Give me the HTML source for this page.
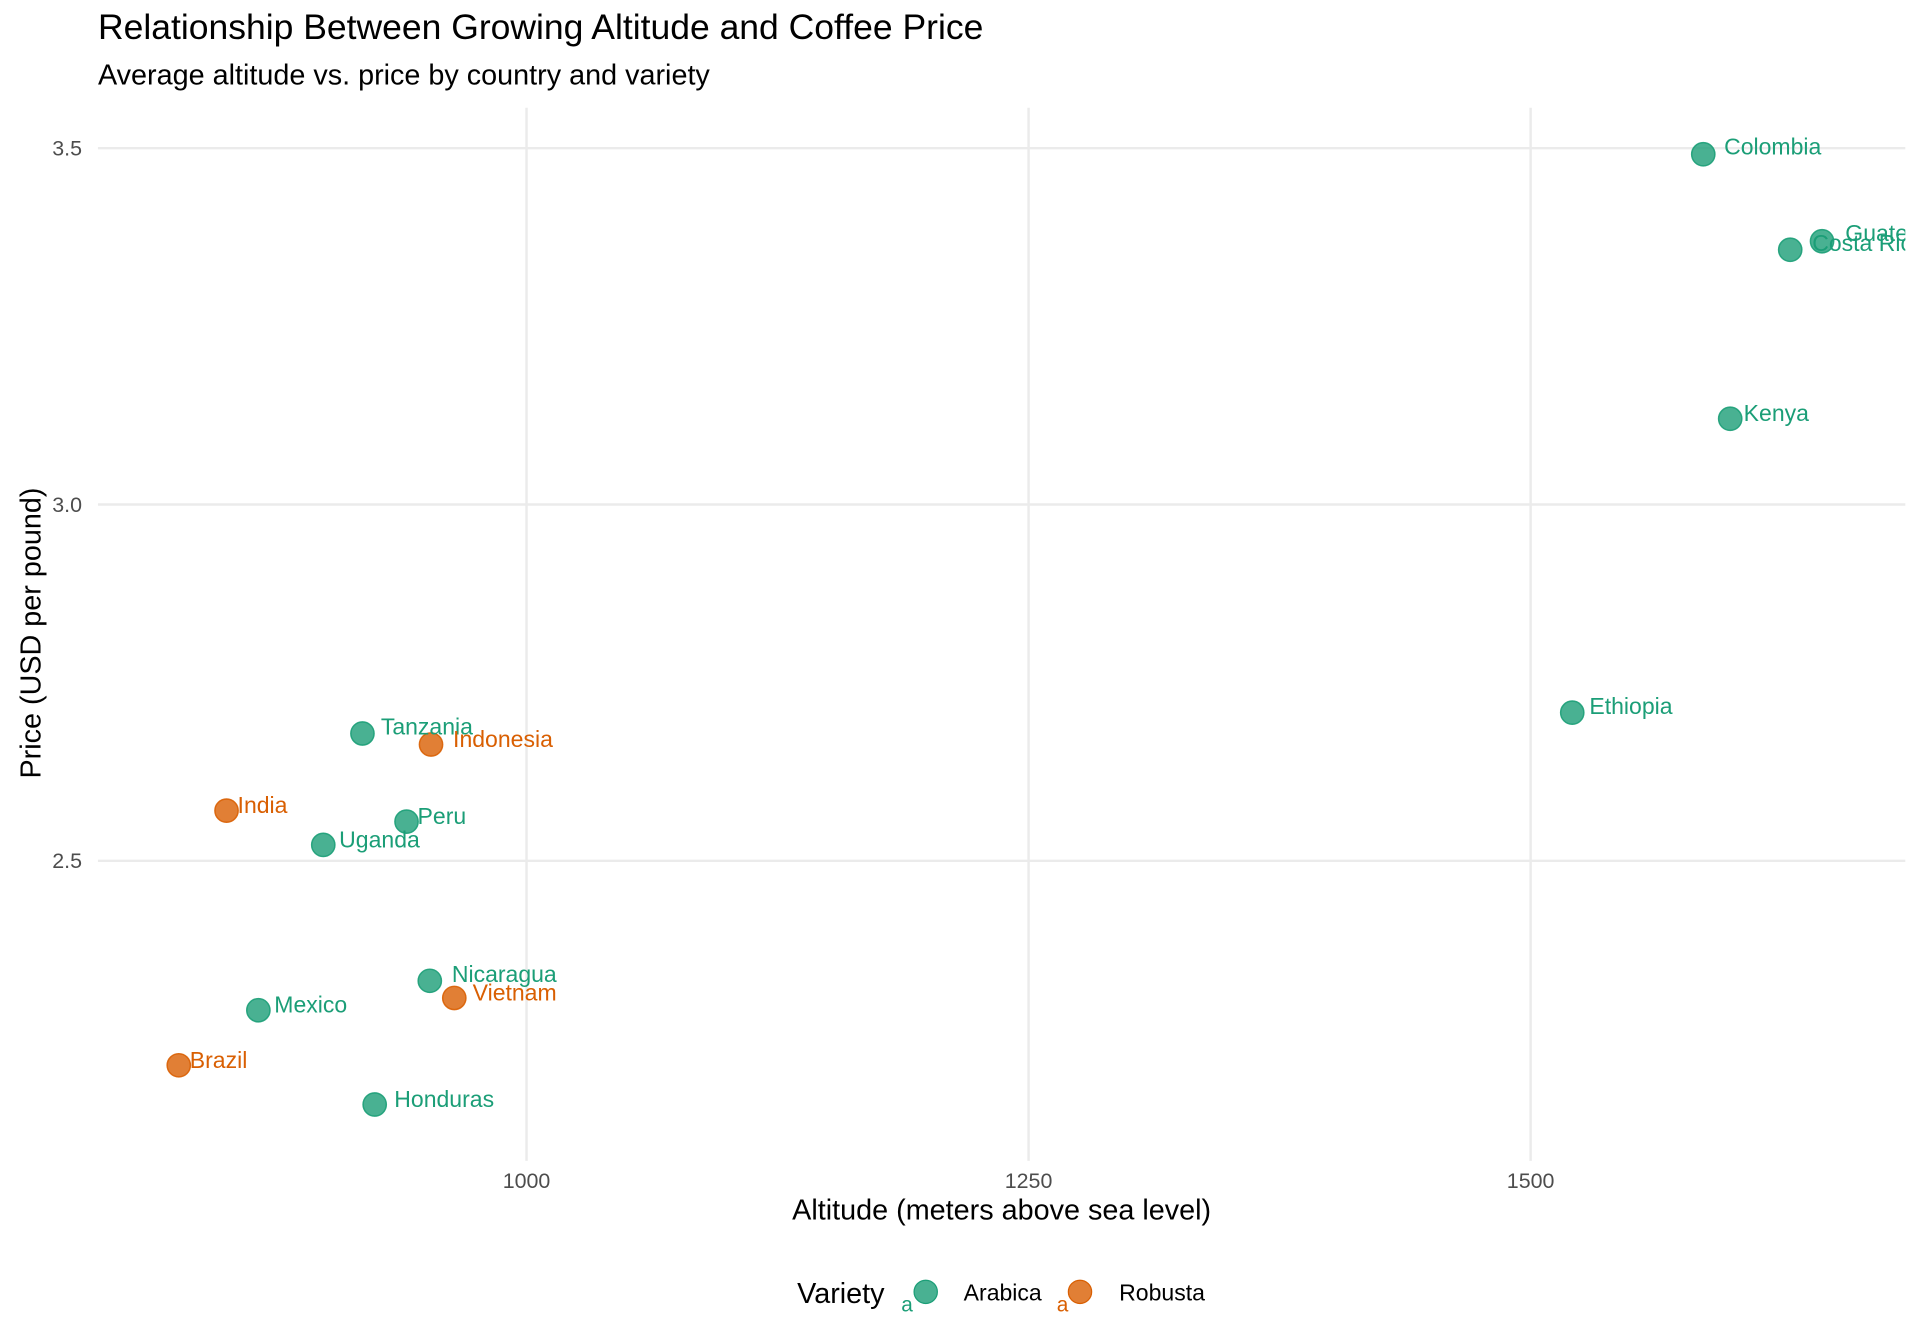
<!DOCTYPE html>
<html><head><meta charset="utf-8"><style>
html,body{margin:0;padding:0;background:#fff;}
svg{display:block;}
text{font-family:"Liberation Sans",Arial,sans-serif;}
</style></head><body>
<svg width="1920" height="1344" viewBox="0 0 1568 1097.6" xmlns="http://www.w3.org/2000/svg">
<rect width="1568" height="1097.6" fill="#fff"/>
<defs><clipPath id="p"><rect x="80" y="88" width="1476" height="860"/></clipPath></defs>
<text x="80" y="32" font-size="29" fill="#000">Relationship Between Growing Altitude and Coffee Price</text>
<text x="80" y="69" font-size="23.5" fill="#000">Average altitude vs. price by country and variety</text>
<g stroke="#ebebeb" stroke-width="2">
<line x1="430" y1="88" x2="430" y2="948"/>
<line x1="840" y1="88" x2="840" y2="948"/>
<line x1="1250" y1="88" x2="1250" y2="948"/>
<line x1="80" y1="121" x2="1556" y2="121"/>
<line x1="80" y1="412" x2="1556" y2="412"/>
<line x1="80" y1="703" x2="1556" y2="703"/>
</g>
<g font-size="17.5" fill="#4d4d4d" text-anchor="end">
<text x="67" y="127">3.5</text><text x="67" y="418">3.0</text><text x="67" y="709">2.5</text>
</g>
<g font-size="17.5" fill="#4d4d4d" text-anchor="middle">
<text x="430" y="970">1000</text><text x="840" y="970">1250</text><text x="1250" y="970">1500</text>
</g>
<text x="818" y="996" font-size="23.5" text-anchor="middle" fill="#000">Altitude (meters above sea level)</text>
<text transform="translate(33,517) rotate(-90)" font-size="23.5" text-anchor="middle" fill="#000">Price (USD per pound)</text>
<g clip-path="url(#p)">
<g fill-opacity="0.8" stroke-opacity="0.9" stroke-width="1.2">
<g fill="#1b9e77" stroke="#1b9e77">
<circle cx="1391" cy="126" r="9.5"/><circle cx="1488" cy="197" r="9.5"/><circle cx="1462" cy="204" r="9.5"/>
<circle cx="1413" cy="342" r="9.5"/><circle cx="1284" cy="582" r="9.5"/><circle cx="296" cy="599" r="9.5"/>
<circle cx="332" cy="671" r="9.5"/><circle cx="264" cy="690" r="9.5"/><circle cx="351" cy="801" r="9.5"/>
<circle cx="211" cy="825" r="9.5"/><circle cx="306" cy="902" r="9.5"/>
</g>
<g fill="#d95f02" stroke="#d95f02">
<circle cx="352" cy="608" r="9.5"/><circle cx="185" cy="662" r="9.5"/><circle cx="371" cy="815" r="9.5"/><circle cx="146" cy="870" r="9.5"/>
</g>
</g>
<g font-size="18.8" fill="#1b9e77">
<text x="1408" y="126">Colombia</text><text x="1507" y="197">Guatemala</text><text x="1480" y="205">Costa Rica</text>
<text x="1424" y="344">Kenya</text><text x="1298" y="583">Ethiopia</text><text x="311" y="600">Tanzania</text>
<text x="341" y="673">Peru</text><text x="277" y="692">Uganda</text><text x="369" y="802">Nicaragua</text>
<text x="224" y="827">Mexico</text><text x="322" y="904">Honduras</text>
</g>
<g font-size="18.8" fill="#d95f02">
<text x="370" y="610">Indonesia</text><text x="194" y="664">India</text><text x="386" y="817">Vietnam</text><text x="155" y="872">Brazil</text>
</g>
</g>
<text x="651" y="1064" font-size="23.5" fill="#000">Variety</text>
<text x="736" y="1071" font-size="17" fill="#1b9e77">a</text>
<circle cx="756" cy="1055" r="9.5" fill="#1b9e77" fill-opacity="0.8" stroke="#1b9e77"/>
<text x="787" y="1062" font-size="18.8" fill="#000">Arabica</text>
<text x="863" y="1071" font-size="17" fill="#d95f02">a</text>
<circle cx="882" cy="1055" r="9.5" fill="#d95f02" fill-opacity="0.8" stroke="#d95f02"/>
<text x="914" y="1062" font-size="18.8" fill="#000">Robusta</text>
</svg>
</body></html>
